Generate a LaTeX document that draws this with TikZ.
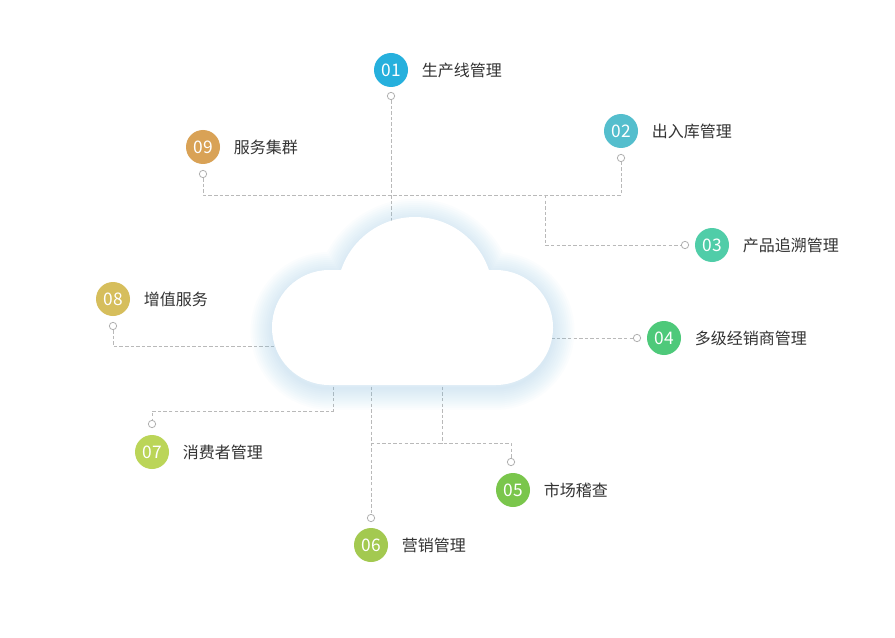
\documentclass[tikz,border=0pt]{standalone}
\usepackage{fontspec}
\usepackage{tikz}
\usetikzlibrary{positioning}
\setmainfont{Noto Sans CJK SC}
\definecolor{linegray}{RGB}{185, 185, 185}
\definecolor{ringgray}{RGB}{175, 175, 175}
\definecolor{textdark}{RGB}{51, 51, 51}
\definecolor{glowblue}{RGB}{140, 200, 240}
\definecolor{dotblue}{RGB}{38, 176, 221}
\definecolor{dotcyan}{RGB}{84, 190, 205}
\definecolor{dotteal}{RGB}{80, 205, 168}
\definecolor{dotgreen}{RGB}{78, 201, 122}
\definecolor{dotlime}{RGB}{122, 198, 76}
\definecolor{dotolive}{RGB}{163, 201, 80}
\definecolor{dotpale}{RGB}{187, 213, 88}
\definecolor{dotgold}{RGB}{214, 190, 92}
\definecolor{dotorange}{RGB}{217, 162, 86}

\begin{document}
\begin{tikzpicture}[x=0.75pt, y=-0.75pt,
    num/.style={circle, fill=#1, text=white, minimum size=25.5pt, inner sep=0pt, font=\fontsize{13}{13}\selectfont},
    ring/.style={circle, draw=ringgray, fill=white, line width=0.6pt, minimum size=5.5pt, inner sep=0pt},
    tag/.style={text=textdark, inner sep=0pt, font=\fontsize{12}{12}\selectfont},
    link/.style={linegray, line width=0.6pt, dash pattern=on 2.6pt off 1.6pt}]
    \fill[white] (0,0) rectangle (895,638);
    \useasboundingbox (0,0) rectangle (895,638);

    % Numbered dots and their labels
    \node[num=dotblue]   (n01) at (391,70)  {01};
    \node[num=dotcyan]   (n02) at (621,131) {02};
    \node[num=dotteal]   (n03) at (712,245) {03};
    \node[num=dotgreen]  (n04) at (664,338) {04};
    \node[num=dotlime]   (n05) at (513,490) {05};
    \node[num=dotolive]  (n06) at (371,545) {06};
    \node[num=dotpale]   (n07) at (152,452) {07};
    \node[num=dotgold]   (n08) at (113,299) {08};
    \node[num=dotorange] (n09) at (203,147) {09};

    \node[tag, right=10pt of n01] (t01) {生产线管理};
    \node[tag, right=10pt of n02] (t02) {出入库管理};
    \node[tag, right=10pt of n03] (t03) {产品追溯管理};
    \node[tag, right=10pt of n04] (t04) {多级经销商管理};
    \node[tag, right=10pt of n05] (t05) {市场稽查};
    \node[tag, right=10pt of n06] (t06) {营销管理};
    \node[tag, right=10pt of n07] (t07) {消费者管理};
    \node[tag, right=10pt of n08] (t08) {增值服务};
    \node[tag, right=10pt of n09] (t09) {服务集群};

    % Small rings where the lines end
    \node[ring] (r01) at (391,96)  {};
    \node[ring] (r02) at (621,158) {};
    \node[ring] (r03) at (685,245) {};
    \node[ring] (r04) at (637,338) {};
    \node[ring] (r05) at (511,462) {};
    \node[ring] (r06) at (371,518) {};
    \node[ring] (r07) at (152,424) {};
    \node[ring] (r08) at (113,326) {};
    \node[ring] (r09) at (203,174) {};

    % Junctions and points on the cloud
    \coordinate (hub) at (545,195);
    \coordinate (k01) at (391,240);
    \coordinate (k04) at (540,338);
    \coordinate (k05) at (442,370);
    \coordinate (k06) at (371,370);
    \coordinate (k07) at (333,370);
    \coordinate (k08) at (290,346);
    \coordinate (j05) at (442,443);
    \coordinate (j06) at (371,443);
    \coordinate (j07) at (240,411);

    % Dashed connectors
    \draw[link] (r01) -- (k01);
    \draw[link] (r09) |- (hub) -| (r02);
    \draw[link] (hub) |- (r03);
    \draw[link] (k04) -- (r04);
    \draw[link] (k06) -- (r06);
    \draw[link] (k05) -- (j05);
    \draw[link] (j06) -| (r05);
    \draw[link] (k07) |- (j07) -| (r07);
    \draw[link] (r08) |- (k08);

    % Cloud with a soft blue glow
    \foreach \w in {32,29,...,2} {
        \draw[glowblue, opacity=0.03, line width=\w pt, yshift=-2.5pt]
            (415,295) circle (58.5pt)
            (272,270) [rounded corners=43pt] rectangle (553,385);
    }
    \fill[white] (415,295) circle (58.5pt)
        (272,270) [rounded corners=43pt] rectangle (553,385);
\end{tikzpicture}
\end{document}
